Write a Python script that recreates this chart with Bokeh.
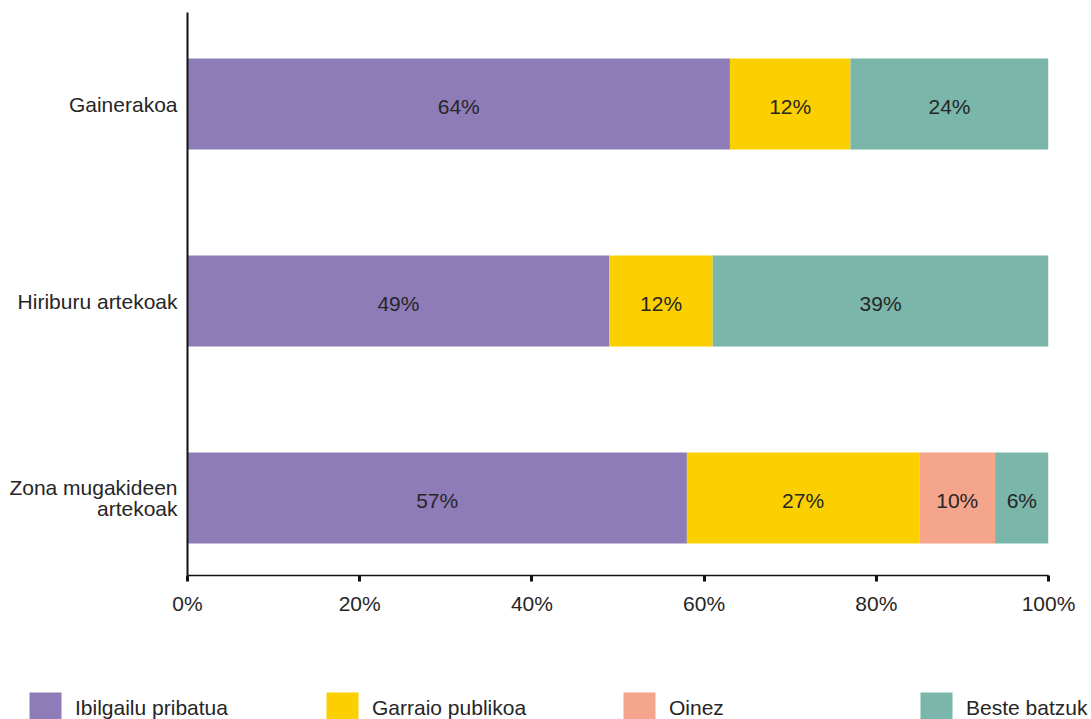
from bokeh.plotting import figure
from bokeh.models import (ColumnDataSource, Range1d, FixedTicker, PrintfTickFormatter,
                          Legend, LegendItem)
from bokeh.layouts import column
from bokeh.core.properties import value
from bokeh.embed import file_html
from bokeh.resources import INLINE

# ---- data (bottom to top) ----
categories = ["Zona mugakideen\nartekoak", "Hiriburu artekoak", "Gainerakoa"]
series = ["Ibilgailu pribatua", "Garraio publikoa", "Oinez", "Beste batzuk"]
ibilgailu = [58, 49, 63]
garraio = [27, 12, 14]
oinez = [8.8, 0, 0]
beste = [6.2, 39, 23]
ibilgailu_lbl = ["57%", "49%", "64%"]
garraio_lbl = ["27%", "12%", "12%"]
oinez_lbl = ["10%", "", ""]
beste_lbl = ["6%", "39%", "24%"]
x_ticks = [0, 20, 40, 60, 80, 100]

colors = ["#8E7CB8", "#FCD000", "#F5A58B", "#7AB6AA"]
FONT = "Liberation Sans"
TXT = "#262626"
FS = "21px"

ypos = list(range(len(categories)))
keys = ["ibilgailu", "garraio", "oinez", "beste"]
vals = [ibilgailu, garraio, oinez, beste]
lbls = [ibilgailu_lbl, garraio_lbl, oinez_lbl, beste_lbl]

src = ColumnDataSource(dict(y=ypos, **{k: v for k, v in zip(keys, vals)}))

p = figure(output_backend="svg", toolbar_location=None,
           frame_width=861, frame_height=563,
           min_border_left=187, min_border_top=12, min_border_right=43, min_border_bottom=105,
           x_range=Range1d(0, 100), y_range=Range1d(-0.3934, 2.4645))

renderers = p.hbar_stack(keys, y="y", height=0.462, color=colors, source=src, line_color=None)

# labels at segment centres
lx, ly, lt = [], [], []
for i in range(len(categories)):
    acc = 0
    for k in range(len(keys)):
        v = vals[k][i]
        if lbls[k][i]:
            lx.append(acc + v / 2)
            ly.append(ypos[i])
            lt.append(lbls[k][i])
        acc += v
p.text(x=lx, y=ly, text=lt, text_align="center", text_baseline="middle",
       y_offset=2, text_font=value(FONT), text_font_size=FS, text_color=TXT)

p.xgrid.visible = False
p.ygrid.visible = False
p.outline_line_color = None

xa = p.xaxis[0]
xa.ticker = FixedTicker(ticks=x_ticks)
xa.formatter = PrintfTickFormatter(format="%d%%")
xa.axis_line_color = "#111111"
xa.axis_line_width = 1.5
xa.major_tick_line_color = "#111111"
xa.major_tick_line_width = 3
xa.major_tick_in = 0
xa.major_tick_out = 6
xa.minor_tick_line_color = None
xa.major_label_text_font = FONT
xa.major_label_text_font_size = FS
xa.major_label_text_color = TXT
xa.major_label_standoff = 10

ya = p.yaxis[0]
ya.ticker = FixedTicker(ticks=ypos)
ya.major_label_overrides = {i: c for i, c in zip(ypos, categories)}
ya.axis_line_color = "#111111"
ya.axis_line_width = 2
ya.major_tick_line_color = None
ya.minor_tick_line_color = None
ya.major_label_text_font = FONT
ya.major_label_text_font_size = FS
ya.major_label_text_color = TXT
ya.major_label_text_line_height = 0.95
ya.major_label_standoff = 4

# ---- legend strip ----
lg = figure(output_backend="svg", toolbar_location=None,
            frame_width=1091, frame_height=39, min_border=0,
            x_range=Range1d(0, 1), y_range=Range1d(0, 1))
lg.axis.visible = False
lg.grid.visible = False
lg.outline_line_color = None
dummies = [lg.hbar(y=[5], left=[5], right=[5], height=0.1, color=c, line_color=None) for c in colors]
legend = Legend(items=[LegendItem(label=s, renderers=[r]) for s, r in zip(series, dummies)],
                orientation="horizontal", location=(25, -9),
                glyph_width=40, glyph_height=40, label_standoff=10, label_width=247,
                spacing=0, padding=0, margin=0, border_line_color=None,
                background_fill_alpha=0, label_text_font=FONT,
                label_text_font_size=FS, label_text_color=TXT)
lg.add_layout(legend, "center")

layout = column(p, lg, spacing=0)
open("out.html", "w").write(file_html(layout, INLINE))
